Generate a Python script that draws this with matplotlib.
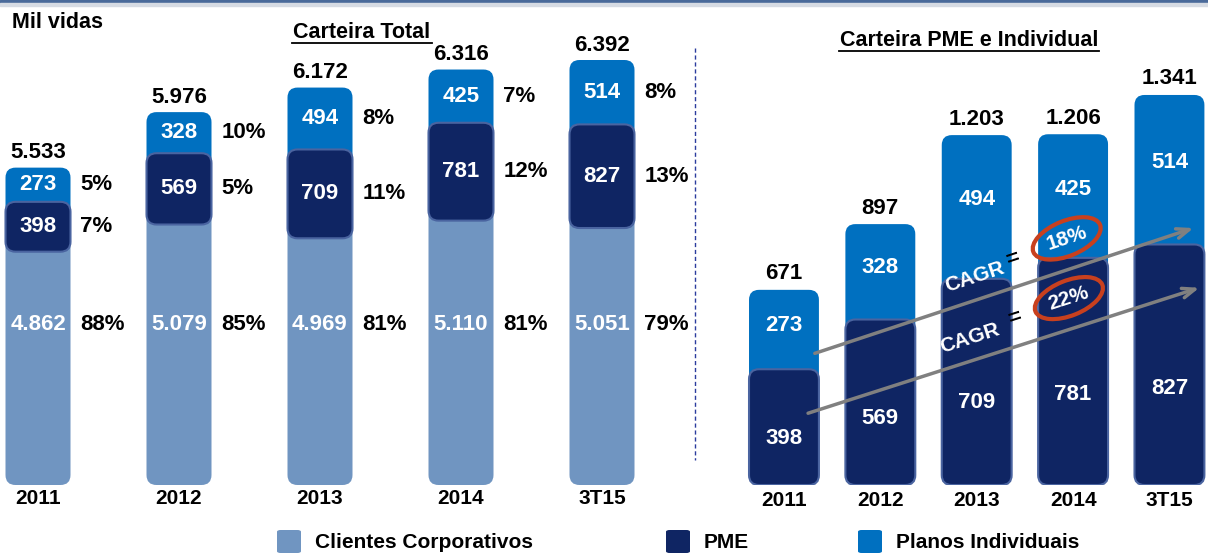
import numpy as np
import matplotlib
matplotlib.use("Agg")
import matplotlib.pyplot as plt
from matplotlib.patches import FancyBboxPatch, Rectangle, Ellipse
from matplotlib.transforms import IdentityTransform, blended_transform_factory

plt.rcParams['font.family'] = ['Liberation Sans', 'DejaVu Sans']
plt.rcParams['font.weight'] = 'bold'

# --- data (mil vidas) ---
periodos = ['2011', '2012', '2013', '2014', '3T15']
corporativos = [4862, 5079, 4969, 5110, 5051]
pme = [398, 569, 709, 781, 827]
individuais = [273, 328, 494, 425, 514]
# percentuais como aparecem no slide (de cima para baixo)
pct_topo = ['5%', '10%', '8%', '7%', '8%']
pct_meio = ['7%', '5%', '11%', '12%', '13%']
pct_corp = ['88%', '85%', '81%', '81%', '79%']
cagr_ind = '18%'
cagr_pme = '22%'

COR_CORP = '#7095c1'
COR_PME = '#0f2563'
COR_PME_BORDA = '#4a64a0'
COR_IND = '#0070c0'
BASE = 3000  # eixo truncado na carteira total
FS = 16


def fmt(v):
    return f"{v:,}".replace(",", ".")


def rbar(ax, x, y0, y1, w, color, r_px=10, z=2, edge=None, lw=0):
    p0 = ax.transData.transform((0, 0))
    px = ax.transData.transform((1, 0))[0] - p0[0]
    py = ax.transData.transform((0, 1))[1] - p0[1]
    r = r_px / px
    patch = FancyBboxPatch((x - w / 2, y0), w, y1 - y0,
                           boxstyle=f"round,pad=0,rounding_size={r}",
                           mutation_aspect=px / py, facecolor=color,
                           edgecolor=edge if edge else 'none', linewidth=lw,
                           zorder=z)
    ax.add_patch(patch)
    return patch


W, H = 1208, 553
fig = plt.figure(figsize=(W / 100, H / 100), dpi=100)

# faixa superior
fig.add_artist(Rectangle((0, 1 - 3 / H), 1, 3 / H, transform=fig.transFigure,
                         color='#4a6a9a', zorder=0))
fig.add_artist(Rectangle((0, 1 - 6 / H), 1, 3 / H, transform=fig.transFigure,
                         color='#d6dbe3', zorder=0))

ax_b = 1 - 485 / H
ax_h = 445 / H

# ---------------- Carteira Total ----------------
ax1 = fig.add_axes([0, ax_b, 690 / W, ax_h])
x1 = np.arange(len(periodos))
ax1.set_xlim(-38 / 141, 652 / 141)
ax1.set_ylim(BASE, BASE + (6392 - BASE) * 445 / 425)
ax1.axis('off')
w1 = 65 / 141

tot1 = [c + p + i for c, p, i in zip(corporativos, pme, individuais)]
trans1 = blended_transform_factory(ax1.transData, ax1.transAxes)
for k in range(len(periodos)):
    c, p, i = corporativos[k], pme[k], individuais[k]
    rbar(ax1, x1[k], BASE, c + p / 2, w1, COR_CORP, z=2)
    rbar(ax1, x1[k], c, c + p + i, w1, COR_IND, z=3)
    rbar(ax1, x1[k], c, c + p, w1, COR_PME, z=4, edge=COR_PME_BORDA, lw=1.5)

    ax1.text(x1[k], 0.36, fmt(c), transform=trans1, ha='center', va='center',
             color='white', fontsize=FS, zorder=6)
    ax1.text(x1[k], c + p / 2, fmt(p), ha='center', va='center',
             color='white', fontsize=FS, zorder=6)
    ax1.text(x1[k], c + p + i / 2, fmt(i), ha='center', va='center',
             color='white', fontsize=FS, zorder=6)
    ax1.annotate(fmt(tot1[k]), (x1[k], tot1[k]), xytext=(0, 3),
                 textcoords='offset points', ha='center', va='bottom',
                 fontsize=FS, color='black')
    xr = x1[k] + w1 / 2 + 0.07
    ax1.text(xr, c + p + i / 2, pct_topo[k], ha='left', va='center', fontsize=FS)
    ax1.text(xr, c + p / 2, pct_meio[k], ha='left', va='center', fontsize=FS)
    ax1.text(xr, 0.36, pct_corp[k], transform=trans1, ha='left', va='center',
             fontsize=FS)
    ax1.text(x1[k], -0.03, periodos[k], transform=trans1, ha='center',
             va='center', fontsize=15)

# separador
fig.add_artist(plt.Line2D([695 / W, 695 / W], [1 - 48 / H, 1 - 460 / H],
                          transform=fig.transFigure, color='#2b3c9e',
                          linestyle=(0, (3, 2)), linewidth=1))

# ---------------- Carteira PME e Individual ----------------
ax2 = fig.add_axes([730 / W, ax_b, 478 / W, ax_h])
x2 = np.arange(len(periodos))
ax2.set_xlim(-0.56, 4.4)
ax2.set_ylim(0, 1530)
ax2.axis('off')
w2 = 70 / 96.5

tot2 = [p + i for p, i in zip(pme, individuais)]
trans2 = blended_transform_factory(ax2.transData, ax2.transAxes)
for k in range(len(periodos)):
    p, i = pme[k], individuais[k]
    rbar(ax2, x2[k], p / 2, p + i, w2, COR_IND, z=2)
    rbar(ax2, x2[k], 0, p, w2, COR_PME, z=3, edge=COR_PME_BORDA, lw=1.5)
    ax2.text(x2[k], p * 0.4, fmt(p), ha='center', va='center', color='white',
             fontsize=FS, zorder=6)
    ax2.text(x2[k], p + i * 0.55, fmt(i), ha='center', va='center',
             color='white', fontsize=FS, zorder=6)
    ax2.annotate(fmt(tot2[k]), (x2[k], tot2[k]), xytext=(0, 4),
                 textcoords='offset points', ha='center', va='bottom',
                 fontsize=FS, color='black')
    ax2.text(x2[k], -0.035, periodos[k], transform=trans2, ha='center',
             va='center', fontsize=15)

fig.canvas.draw()


def cagr(ax, start, end, valor, offs):
    ax.annotate('', xy=end, xytext=start,
                arrowprops=dict(arrowstyle='->,head_length=0.9,head_width=0.35',
                                color='#808080', lw=2.5, shrinkA=0, shrinkB=0),
                zorder=7)
    p0 = ax.transData.transform(start)
    p1 = ax.transData.transform(end)
    d = p1 - p0
    ang = np.degrees(np.arctan2(d[1], d[0]))
    n = np.array([-d[1], d[0]]) / np.hypot(*d)
    inv = fig.transFigure.inverted()
    for txt, t, off, col, fs in [('CAGR', offs[0], 22, 'white', 15),
                                 ('=', offs[1], 27, 'black', 16),
                                 (valor, offs[2], 30, 'white', 15)]:
        pc = p0 + t * d + off * n
        q = inv.transform(pc)
        fig.text(q[0], q[1], txt, rotation=ang, ha='center', va='center',
                 rotation_mode='anchor', color=col, fontsize=fs, zorder=9)
        if txt == valor:
            fig.add_artist(Ellipse(pc, 72, 35, angle=ang + 4,
                                   transform=IdentityTransform(), fill=False,
                                   edgecolor='#c8401e', linewidth=3, zorder=8))


cagr(ax2, (0.32, pme[0] + 0.2 * individuais[0]),
     (4.25, pme[4] + 0.11 * individuais[4]), cagr_ind, (0.44, 0.545, 0.69))
cagr(ax2, (0.25, 0.62 * pme[0]), (4.31, 0.82 * pme[4]), cagr_pme,
     (0.43, 0.55, 0.69))

# titulos
fig.text(12 / W, 1 - 22 / H, 'Mil vidas', fontsize=15.5, ha='left', va='center')
fig.text(362 / W, 1 - 32 / H, 'Carteira Total', fontsize=15.5, ha='center',
         va='center')
fig.add_artist(plt.Line2D([292 / W, 432 / W], [1 - 43 / H, 1 - 43 / H],
                          transform=fig.transFigure, color='black', lw=1.3))
fig.text(969 / W, 1 - 40 / H, 'Carteira PME e Individual', fontsize=15.5,
         ha='center', va='center')
fig.add_artist(plt.Line2D([839 / W, 1099 / W], [1 - 51 / H, 1 - 51 / H],
                          transform=fig.transFigure, color='black', lw=1.3))

# legenda
for xs, cor, nome in [(277, COR_CORP, 'Clientes Corporativos'),
                      (666, COR_PME, 'PME'),
                      (858, COR_IND, 'Planos Individuais')]:
    fig.add_artist(FancyBboxPatch((xs / W, 1 - 553 / H), 24 / W, 23 / H,
                                  boxstyle='round,pad=0,rounding_size=0.003',
                                  transform=fig.transFigure, facecolor=cor,
                                  edgecolor='none'))
    fig.text((xs + 38) / W, 1 - 543 / H, nome, fontsize=15, ha='left',
             va='center')

fig.savefig('out.png', dpi=100)
